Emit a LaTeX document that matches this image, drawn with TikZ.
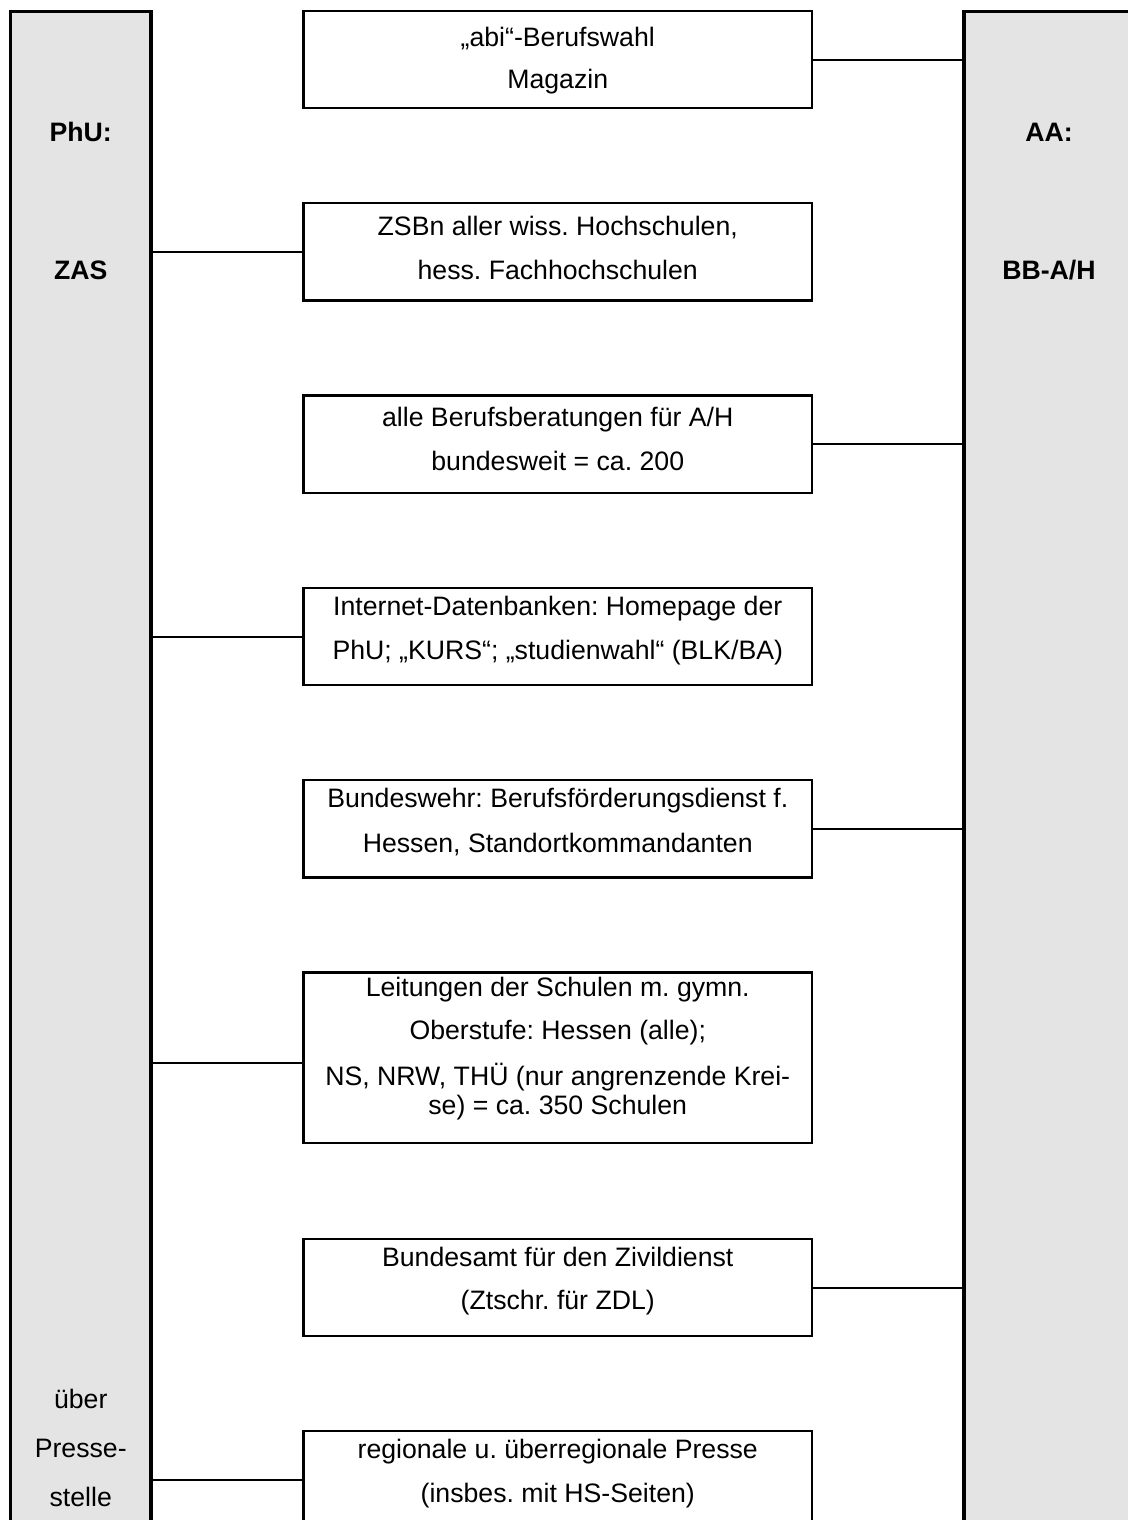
\documentclass[tikz,border=0pt]{standalone}
\usepackage{fontspec}
\setmainfont{Liberation Sans}
\definecolor{colgray}{RGB}{228,228,228}
\newcommand{\firstline}{\rule{0pt}{12pt}}
\frenchspacing
\begin{document}
\begin{tikzpicture}[x=0.48pt, y=-0.48pt, font=\fontsize{12.8}{13.92}\selectfont,
  column/.style={draw, fill=colgray, line width=1.9pt, anchor=north west, outer sep=0pt, inner sep=0pt, minimum height=760pt},
  box/.style={draw, line width=1.1pt, anchor=north west, outer sep=0pt, inner sep=0pt, minimum width=244.08pt, minimum height=#1},
  box/.default=46.7pt,
  txt/.style={anchor=north, align=center, inner sep=0pt, yshift=12pt-#1},
  coltxt/.style={anchor=base, inner sep=0pt},
  colhead/.style={coltxt, font=\fontsize{12.8}{13.92}\selectfont\bfseries},
  conn/.style={line width=1.1pt}]
  \useasboundingbox (0,0) rectangle (1128,1520);
  \clip (0,0) rectangle (1128,1520);
  % side columns
  \node[column, minimum width=67.44pt] (phu) at (10.5,11.5) {};
  \node[column, minimum width=84pt] (aa) at (964,11.5) {};
  \node[colhead] (phu-a) at (80.75,141) {PhU:};
  \node[colhead] (phu-b) at (80.75,279) {ZAS};
  \node[coltxt] (ps-a) at (80.75,1408) {über};
  \node[coltxt] (ps-b) at (80.75,1457) {Presse-};
  \node[coltxt] (ps-c) at (80.75,1506) {stelle};
  \node[colhead] (aa-a) at (1049,141) {AA:};
  \node[colhead] (aa-b) at (1049,279) {BB-A/H};
  % boxes
  \node[box] (abi) at (303.5,11) {};
  \node[box] (zsb) at (303.5,203.3) {};
  \node[box] (bera) at (303.5,395.6) {};
  \node[box] (inet) at (303.5,588) {};
  \node[box] (bw) at (303.5,780.2) {};
  \node[box=81.84pt] (leit) at (303.5,972.6) {};
  \node[box] (zdl) at (303.5,1239) {};
  \node[box] (pres) at (303.5,1431) {};
  \node[txt=16.8pt] (abi-t) at (abi.north) {\firstline„abi“-Berufswahl\\[6.2pt] Magazin};
  \node[txt=15.4pt] (zsb-t) at (zsb.north) {\firstline ZSBn aller wiss. Hochschulen,\\[7.2pt] hess. Fachhochschulen};
  \node[txt=14.6pt] (bera-t) at (bera.north) {\firstline alle Berufsberatungen für A/H\\[7.2pt] bundesweit = ca. 200};
  \node[txt=12.8pt] (inet-t) at (inet.north) {\firstline Internet-Datenbanken: Homepage der\\[7.6pt] PhU; „KURS“; „studienwahl“ (BLK/BA)};
  \node[txt=12.8pt] (bw-t) at (bw.north) {\firstline Bundeswehr: Berufsförderungsdienst f.\\[7.6pt] Hessen, Standortkommandanten};
  \node[txt=11.3pt] (leit-t) at (leit.north) {\firstline Leitungen der Schulen m. gymn.\\[6.7pt] Oberstufe: Hessen (alle);\\[8.2pt] NS, NRW, THÜ (nur angrenzende Krei-\\ se) = ca. 350 Schulen};
  \node[txt=13pt] (zdl-t) at (zdl.north) {\firstline Bundesamt für den Zivildienst\\[6.7pt] (Ztschr. für ZDL)};
  \node[txt=13.2pt] (pres-t) at (pres.north) {\firstline regionale u. überregionale Presse\\[7.2pt] (insbes. mit HS-Seiten)};
  % connectors
  \draw[conn] (abi.east) -- (aa.west |- abi.east);
  \draw[conn] (zsb.west) -- (phu.east |- zsb.west);
  \draw[conn] (bera.east) -- (aa.west |- bera.east);
  \draw[conn] (inet.west) -- (phu.east |- inet.west);
  \draw[conn] (bw.east) -- (aa.west |- bw.east);
  \draw[conn] (leit.west |- 0,1063) -- (phu.east |- 0,1063);
  \draw[conn] (zdl.east) -- (aa.west |- zdl.east);
  \draw[conn] (pres.west) -- (phu.east |- pres.west);
\end{tikzpicture}
\end{document}
